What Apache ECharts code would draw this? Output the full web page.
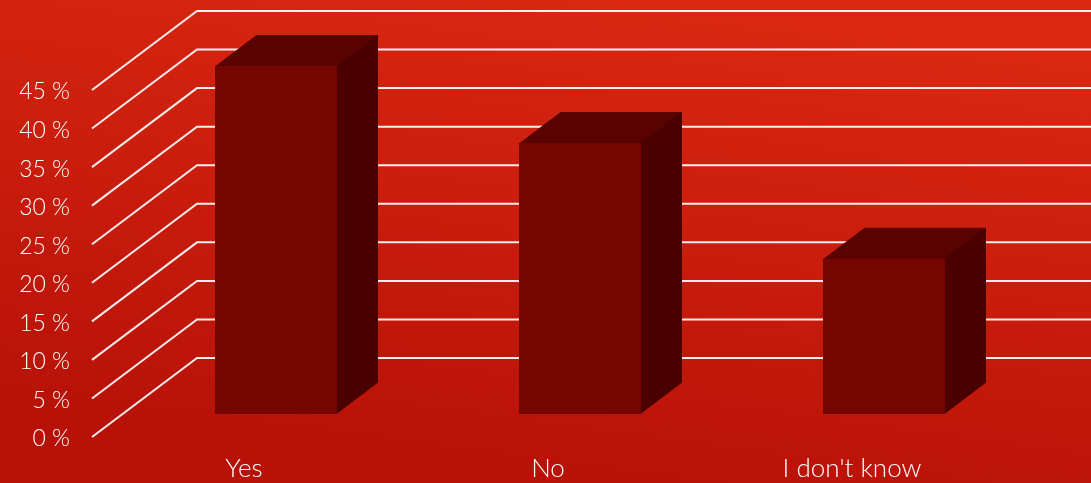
<!DOCTYPE html>
<html><head><meta charset="utf-8">
<style>html,body{margin:0;padding:0;overflow:hidden}#c{width:1091px;height:483px}</style>
<script src="https://cdn.jsdelivr.net/npm/echarts@6/dist/echarts.min.js"></script>
</head><body><div id="c"></div>
<script>
const categories = ["Yes", "No", "I don't know"];
const values = [45, 35, 20];
const yTicks = [0, 5, 10, 15, 20, 25, 30, 35, 40, 45];

const wall = {dx: 105, dy: -79};
const bar = {ratio: 121 / 304, sx: 32, sy: -23.5, dx: 41, dy: -31};
const font = 'Lato';

const chart = echarts.init(document.getElementById('c'), null, {renderer: 'canvas'});
chart.setOption({
  animation: false,
  backgroundColor: new echarts.graphic.LinearGradient(0.47, 1, 0.53, 0, [
    {offset: 0, color: '#B71108'},
    {offset: 1, color: '#D92711'}
  ]),
  grid: {left: 92, right: 87, top: 90, bottom: 46, containLabel: false},
  xAxis: {
    type: 'category', data: categories,
    axisLine: {show: false}, axisTick: {show: false}, splitLine: {show: false},
    axisLabel: {color: '#FFFFFF', fontFamily: font, fontSize: 26, fontWeight: 300, margin: 19}
  },
  yAxis: {
    type: 'value', min: 0, max: 45, interval: 5,
    axisLine: {show: false}, axisTick: {show: false}, splitLine: {show: false},
    axisLabel: {
      margin: 22,
      formatter: '{t|{value} %}',
      rich: {t: {color: '#FFFFFF', fontFamily: font, fontSize: 23, fontWeight: 300, padding: [4, 0, 0, 0]}}
    }
  },
  series: [
    {
      type: 'custom', clip: false, z: 1, silent: true,
      data: yTicks.map(t => [0, t]),
      encode: {x: 0, y: 1},
      renderItem(params, api) {
        const cs = params.coordSys;
        const y = api.coord([0, api.value(1)])[1];
        return {
          type: 'polyline',
          shape: {points: [[cs.x, y], [cs.x + wall.dx, y + wall.dy], [cs.x + cs.width + wall.dx + 20, y + wall.dy]]},
          style: {stroke: '#FFFFFF', fill: null, lineWidth: 2, opacity: 0.92}
        };
      }
    },
    {
      type: 'custom', clip: false, z: 2, silent: true,
      data: values.map((v, i) => [i, v]),
      encode: {x: 0, y: 1},
      renderItem(params, api) {
        const c0 = api.coord([api.value(0), 0]);
        const c1 = api.coord([api.value(0), api.value(1)]);
        const w = api.size([1, 0])[0] * bar.ratio;
        const l = c0[0] + bar.sx - w / 2, r = l + w;
        const b = c0[1] + bar.sy, t = c1[1] + bar.sy;
        const d = bar.dx, e = bar.dy;
        return {
          type: 'group',
          children: [
            {type: 'polygon', shape: {points: [[l, t], [r, t], [r + d, t + e], [l + d, t + e]]}, style: {fill: '#580300', stroke: '#580300', lineWidth: 1}},
            {type: 'polygon', shape: {points: [[r, t], [r + d, t + e], [r + d, b + e], [r, b]]}, style: {fill: '#4B0000', stroke: '#4B0000', lineWidth: 1}},
            {type: 'rect', shape: {x: l, y: t, width: w, height: b - t}, style: {fill: '#750500', stroke: '#750500', lineWidth: 1}}
          ]
        };
      }
    }
  ]
});
</script></body></html>
